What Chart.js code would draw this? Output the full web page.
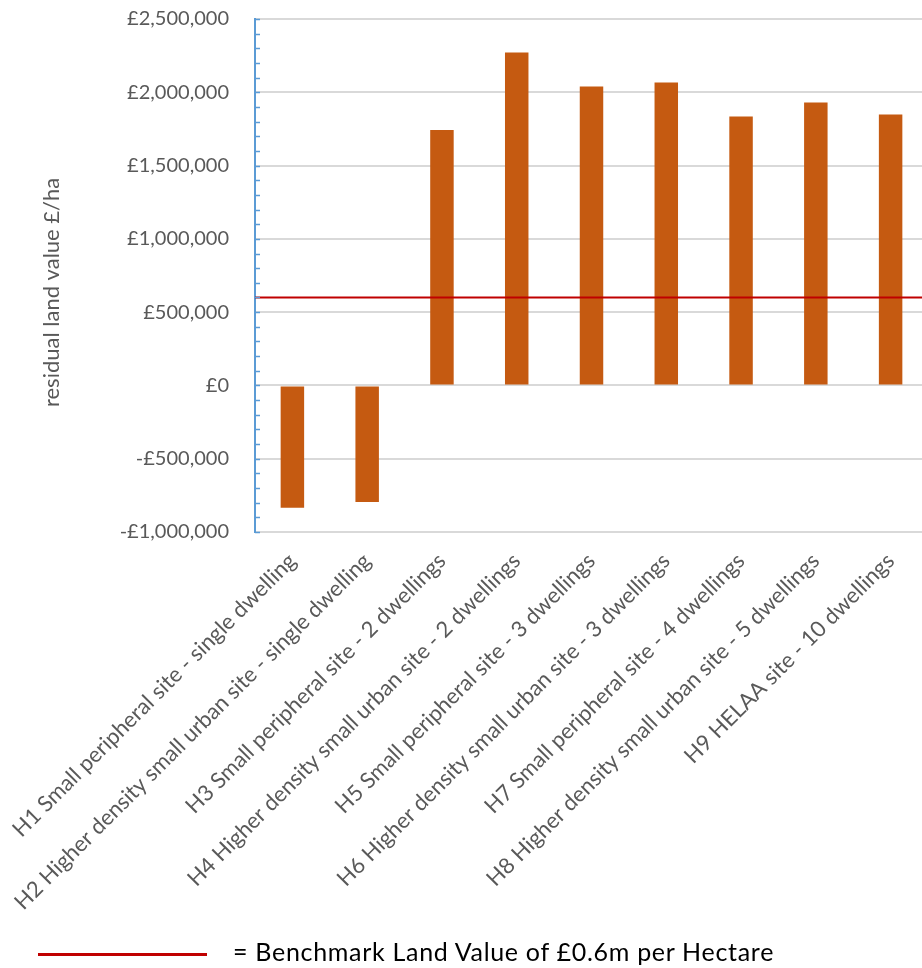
<!DOCTYPE html>
<html>
<head>
<meta charset="utf-8">
<script src="https://cdn.jsdelivr.net/npm/chart.js@4.4.0/dist/chart.umd.min.js"></script>
<style>
  html, body { margin: 0; padding: 0; background: #fff; overflow: hidden; }
  #wrap { position: relative; width: 928px; height: 968px; }
  #legend { position: absolute; left: 38px; top: 936px; font: 25px/30px Lato, sans-serif; color: #000; white-space: nowrap; }
  #legend .swatch { position: absolute; left: 0; top: 17px; width: 169px; height: 3px; background: #C00000; }
  #legend .txt { position: absolute; left: 195px; top: 0; letter-spacing: 0.7px; }
</style>
</head>
<body>
<div id="wrap">
  <canvas id="chart" width="928" height="968"></canvas>
  <div id="legend"><span class="swatch"></span><span class="txt">= Benchmark Land Value of £0.6m per Hectare</span></div>
</div>
<script>
const CATEGORIES = [
  "H1 Small peripheral site - single dwelling",
  "H2 Higher density small urban site - single dwelling",
  "H3 Small peripheral site - 2 dwellings",
  "H4 Higher density small urban site - 2 dwellings",
  "H5 Small peripheral site - 3 dwellings",
  "H6 Higher density small urban site - 3 dwellings",
  "H7 Small peripheral site - 4 dwellings",
  "H8 Higher density small urban site - 5 dwellings",
  "H9 HELAA site - 10 dwellings",
];
const RESIDUAL_VALUES = [-835000, -795000, 1742000, 2272000, 2040000, 2067000, 1835000, 1930000, 1849000];
const BENCHMARK = 600000;
const Y_MIN = -1000000;
const Y_MAX = 2500000;
const Y_STEP = 500000;
const Y_MINOR = 100000;

const TEXT = "#595959";
const FONT = "Lato, sans-serif";

function money(v) {
  const s = "£" + Math.abs(v).toLocaleString("en-GB");
  return v < 0 ? "-" + s : s;
}

// benchmark line over the bars + small inside ticks on the value axis
const extras = {
  id: "extras",
  afterDatasetsDraw(chart) {
    const { ctx, chartArea, scales } = chart;
    const y = scales.y;
    ctx.save();
    ctx.strokeStyle = "#C00000";
    ctx.lineWidth = 2;
    const by = y.getPixelForValue(BENCHMARK);
    ctx.beginPath();
    ctx.moveTo(chartArea.left, by);
    ctx.lineTo(chartArea.right, by);
    ctx.stroke();

    ctx.strokeStyle = "#5B9BD5";
    ctx.lineWidth = 1.5;
    for (let v = Y_MIN; v <= Y_MAX; v += Y_MINOR) {
      const py = Math.round(y.getPixelForValue(v)) + 0.5;
      ctx.beginPath();
      ctx.moveTo(chartArea.left, py);
      ctx.lineTo(chartArea.left + 5, py);
      ctx.stroke();
    }
    ctx.restore();
  },
};

new Chart(document.getElementById("chart"), {
  type: "bar",
  data: {
    labels: CATEGORIES,
    datasets: [{
      label: "residual land value",
      data: RESIDUAL_VALUES,
      backgroundColor: "#C55A11",
      barPercentage: 0.314,
      categoryPercentage: 1,
    }],
  },
  options: {
    responsive: false,
    animation: false,
    layout: { padding: { top: 19, left: 0, right: 0, bottom: 0 } },
    plugins: { legend: { display: false }, tooltip: { enabled: false } },
    scales: {
      x: {
        grid: { display: false },
        border: { display: false },
        ticks: {
          color: TEXT, font: { family: FONT, size: 22 },
          autoSkip: false, maxRotation: 45, minRotation: 45, padding: 8,
        },
        afterFit: (s) => { s.height = 968 - 532; s.paddingLeft = 0; s.paddingRight = 0; },
      },
      y: {
        min: Y_MIN, max: Y_MAX,
        grid: { color: "#D9D9D9", lineWidth: 2, drawTicks: false },
        border: { color: "#5B9BD5", width: 2 },
        ticks: {
          stepSize: Y_STEP, color: TEXT, font: { family: FONT, size: 20 }, padding: 26,
          callback: (v) => money(v),
        },
        title: {
          display: true, text: "residual land value £/ha\u00a0\u00a0\u00a0\u00a0\u00a0\u00a0", color: TEXT,
          font: { family: FONT, size: 22 }, padding: { top: 39, bottom: 0 },
        },
        afterFit: (s) => { s.width = 255; s.paddingTop = 0; s.paddingBottom = 0; },
      },
    },
  },
  plugins: [extras],
});
</script>
</body>
</html>
